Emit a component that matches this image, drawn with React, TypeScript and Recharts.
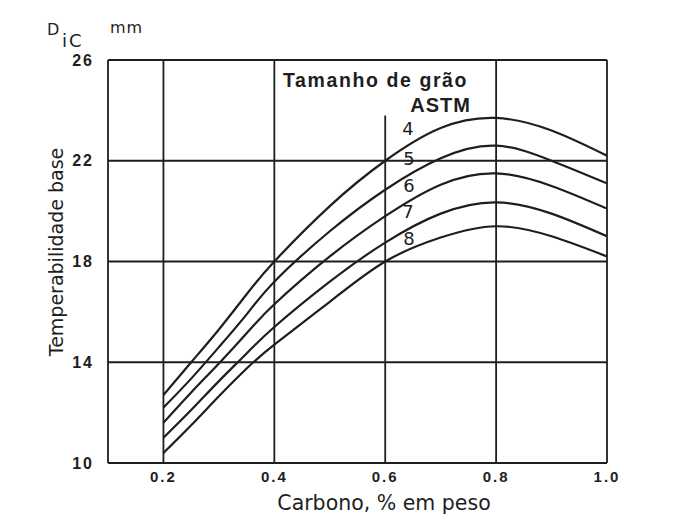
import { LineChart, Line, XAxis, YAxis, ReferenceLine, ReferenceDot } from "recharts";

// carbono, % em peso
const carbon = [0.2, 0.25, 0.3, 0.35, 0.4, 0.5, 0.6, 0.7, 0.8, 0.9, 1.0];

// temperabilidade base D_iC (mm) por tamanho de grão ASTM
const grain4 = [12.7, 14.0, 15.3, 16.7, 18.0, 20.2, 22.0, 23.3, 23.7, 23.2, 22.2];
const grain5 = [12.2, 13.35, 14.6, 15.9, 17.2, 19.2, 20.85, 22.1, 22.6, 22.0, 21.1];
const grain6 = [11.6, 12.8, 13.95, 15.15, 16.3, 18.2, 19.8, 21.05, 21.5, 21.0, 20.1];
const grain7 = [11.0, 12.1, 13.25, 14.35, 15.4, 17.2, 18.75, 19.9, 20.35, 19.9, 19.0];
const grain8 = [10.4, 11.5, 12.65, 13.75, 14.7, 16.4, 18.0, 18.95, 19.4, 19.0, 18.2];

const series = [
  { key: "g4", name: "4", values: grain4 },
  { key: "g5", name: "5", values: grain5 },
  { key: "g6", name: "6", values: grain6 },
  { key: "g7", name: "7", values: grain7 },
  { key: "g8", name: "8", values: grain8 },
];

// where each curve number is written (data space)
const curveLabels = [
  { name: "4", x: 0.641, y: 23.29 },
  { name: "5", x: 0.643, y: 22.09 },
  { name: "6", x: 0.643, y: 21.01 },
  { name: "7", x: 0.641, y: 19.98 },
  { name: "8", x: 0.643, y: 18.9 },
];

const xTicks = [0.2, 0.4, 0.6, 0.8, 1.0];
const yTicks = [10, 14, 18, 22, 26];
const fullVerticals = [0.2, 0.4, 0.8, 1.0];
const horizontals = [14, 18, 22, 26];

const data = carbon.map((c, i) => {
  const row: Record<string, number> = { c };
  series.forEach((s) => (row[s.key] = s.values[i]));
  return row;
});

const INK = "#1e1e1e";
const FONT = "'DejaVu Sans', sans-serif";
const BOLD = "'Liberation Sans', Arial, sans-serif";

export default function App() {
  const tick = { fill: INK, fontSize: 15, fontFamily: BOLD, fontWeight: 700 };
  return (
    <div style={{ position: "absolute", left: 0, top: 0, width: 679, height: 532, background: "#fff" }}>
      <LineChart
        width={679}
        height={532}
        data={data}
        margin={{ top: 60, right: 72, bottom: 39, left: 48 }}
      >
        {horizontals.map((v) => (
          <ReferenceLine key={"h" + v} y={v} stroke={INK} strokeWidth={1.8} />
        ))}
        {fullVerticals.map((v) => (
          <ReferenceLine key={"v" + v} x={v} stroke={INK} strokeWidth={1.8} />
        ))}
        <ReferenceLine
          segment={[
            { x: 0.6, y: 10 },
            { x: 0.6, y: 23.8 },
          ]}
          stroke={INK}
          strokeWidth={1.8}
        />
        <XAxis
          dataKey="c"
          type="number"
          domain={[0.1, 1.0]}
          ticks={xTicks}
          tickFormatter={(v: number) => v.toFixed(1)}
          height={30}
          axisLine={{ stroke: INK, strokeWidth: 1.8 }}
          tickLine={false}
          tick={{ ...tick, letterSpacing: 2 }}
          allowDataOverflow
        />
        <YAxis
          type="number"
          domain={[10, 26]}
          ticks={yTicks}
          width={60}
          axisLine={{ stroke: INK, strokeWidth: 1.8 }}
          tickLine={false}
          tickMargin={8}
          tick={{ ...tick, fontSize: 16, letterSpacing: 2 }}
          allowDataOverflow
        />
        {series.map((s) => (
          <Line
            key={s.key}
            dataKey={s.key}
            name={s.name}
            type="natural"
            stroke={INK}
            strokeWidth={2.2}
            dot={false}
            activeDot={false}
            isAnimationActive={false}
          />
        ))}
        {curveLabels.map((l) => (
          <ReferenceDot
            key={"l" + l.name}
            x={l.x}
            y={l.y}
            r={0}
            stroke="none"
            label={{ value: l.name, position: "center", fill: INK, fontSize: 18, fontFamily: FONT }}
          />
        ))}
      </LineChart>
      <svg
        width={679}
        height={532}
        style={{ position: "absolute", left: 0, top: 0, pointerEvents: "none" }}
        fontFamily={FONT}
        fill={INK}
      >
        <text x={47} y={35} fontSize={16}>D</text>
        <text x={62} y={47} fontSize={18} letterSpacing={2}>iC</text>
        <text x={110} y={33} fontSize={16} letterSpacing={1}>mm</text>
        <text x={283} y={87} fontSize={19.5} fontFamily={BOLD} fontWeight={700} letterSpacing={1.6}>
          Tamanho de grão
        </text>
        <text x={471} y={112} fontSize={20} fontFamily={BOLD} fontWeight={700} letterSpacing={1} textAnchor="end">
          ASTM
        </text>
        <text x={63} y={252} fontSize={19} textAnchor="middle" transform="rotate(-90 63 252)">
          Temperabilidade base
        </text>
        <text x={384} y={510} fontSize={20.5} textAnchor="middle">
          Carbono, % em peso
        </text>
      </svg>
    </div>
  );
}
